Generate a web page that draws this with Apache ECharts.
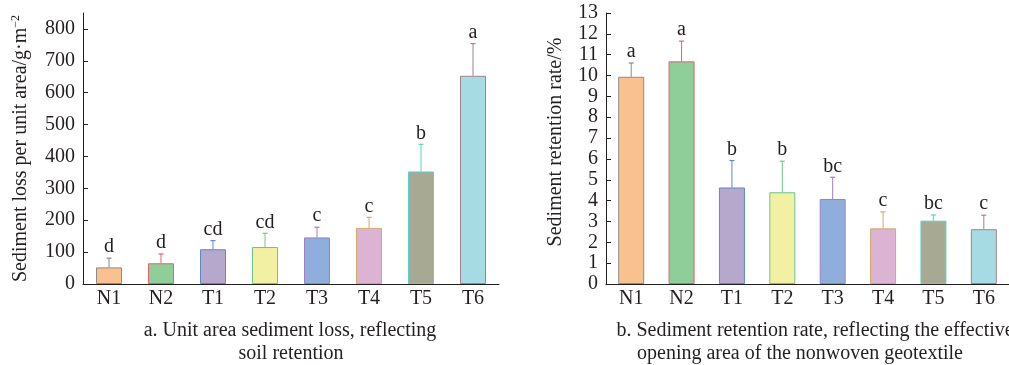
<!DOCTYPE html>
<html>
<head>
<meta charset="utf-8">
<script src="https://cdn.jsdelivr.net/npm/echarts@6/dist/echarts.min.js"></script>
<style>
  html, body { margin: 0; padding: 0; background: #fff; }
  #chart { width: 1009px; height: 365px; }
</style>
</head>
<body>
<div id="chart"></div>
<script>
// Treatments
const categories = ['N1', 'N2', 'T1', 'T2', 'T3', 'T4', 'T5', 'T6'];

// a. Sediment loss per unit area (g·m^-2): mean, upper error, significance letters
const lossMean = [52, 65, 109, 116, 146, 176, 353, 653];
const lossErr = [29, 29, 27, 43, 32, 33, 85, 101];
const lossLetters = ['d', 'd', 'cd', 'cd', 'c', 'c', 'b', 'a'];
const lossTicks = [0, 100, 200, 300, 400, 500, 600, 700, 800];

// b. Sediment retention rate (%): mean, upper error, significance letters
const rateMean = [9.94, 10.68, 4.63, 4.40, 4.08, 2.67, 3.04, 2.63];
const rateErr = [0.66, 0.97, 1.29, 1.49, 1.04, 0.79, 0.27, 0.67];
const rateLetters = ['a', 'a', 'b', 'b', 'bc', 'c', 'bc', 'c'];

// Bar fills and outline / error-bar colours per treatment
const fillColors = ['#F8C18F', '#8FCD99', '#B6A7CC', '#F1F0A3', '#8FAEDC', '#DCB3D2', '#A8A993', '#A7DBE3'];
const edgeColors = ['#8E8A86', '#E4606C', '#5B8ACB', '#6CC48C', '#9A80C2', '#D3A96B', '#5CCFD0', '#A28289'];

const FONT = '"Liberation Serif", "Times New Roman", serif';
const FS = 20;
const INK = '#231F20';

function barData(means) {
  return means.map((v, i) => ({
    value: v,
    itemStyle: { color: fillColors[i], borderColor: edgeColors[i], borderWidth: 1 }
  }));
}

// Upper error whisker with a short cap, plus the significance letter above it
function errorRenderer(letters) {
  return function (params, api) {
    const i = api.value(0);
    const mean = api.value(1);
    const err = api.value(2);
    const p0 = api.coord([i, mean]);
    const p1 = api.coord([i, mean + err]);
    const col = edgeColors[i];
    return {
      type: 'group',
      children: [
        { type: 'line', shape: { x1: p0[0], y1: p0[1], x2: p1[0], y2: p1[1] },
          style: { stroke: col, lineWidth: 1 } },
        { type: 'line', shape: { x1: p1[0] - 2.5, y1: p1[1], x2: p1[0] + 2.5, y2: p1[1] },
          style: { stroke: col, lineWidth: 1.2 } },
        { type: 'text', x: p1[0], y: p1[1] - 1,
          style: { text: letters[i], fill: INK, font: FS + 'px ' + FONT,
                   align: 'center', verticalAlign: 'bottom' } }
      ]
    };
  };
}

const axisCommon = {
  axisLine: { show: true, lineStyle: { color: INK, width: 1 } },
  axisTick: { show: true, inside: true, length: 5, lineStyle: { color: INK } },
  splitLine: { show: false },
  axisLabel: { color: INK, fontFamily: FONT, fontSize: FS }
};

const chart = echarts.init(document.getElementById('chart'), null, { renderer: 'canvas' });

chart.setOption({
  backgroundColor: '#fff',
  animation: false,
  grid: [
    { left: 83, top: 13, width: 416, height: 271, containLabel: false },
    { left: 606, top: 13, width: 416, height: 271, containLabel: false }
  ],
  xAxis: [0, 1].map(g => ({
    type: 'category',
    gridIndex: g,
    data: categories,
    axisLine: { show: true, lineStyle: { color: INK, width: 1 } },
    axisTick: { show: true, inside: true, alignWithLabel: true, length: 5, lineStyle: { color: INK } },
    axisLabel: { color: INK, fontFamily: FONT, fontSize: FS, margin: 5 }
  })),
  yAxis: [
    Object.assign({}, axisCommon, {
      type: 'value', gridIndex: 0, min: 0, max: 850, interval: 100,
      axisTick: Object.assign({}, axisCommon.axisTick, { customValues: lossTicks }),
      axisLabel: Object.assign({}, axisCommon.axisLabel, { customValues: lossTicks, margin: 8 }),
      name: '{n|Sediment loss per unit area/g·m}{s|−2}',
      nameLocation: 'middle',
      nameGap: 52,
      nameTextStyle: {
        color: INK, fontFamily: FONT, fontSize: FS,
        rich: {
          n: { fontFamily: FONT, fontSize: FS, color: INK },
          s: { fontFamily: FONT, fontSize: 12, color: INK, verticalAlign: 'top', padding: [0, 0, 9, 0] }
        }
      }
    }),
    Object.assign({}, axisCommon, {
      type: 'value', gridIndex: 1, min: 0, max: 13, interval: 1,
      axisLabel: Object.assign({}, axisCommon.axisLabel, { margin: 8 }),
      name: 'Sediment retention rate/%',
      nameLocation: 'middle',
      nameGap: 40,
      nameTextStyle: { color: INK, fontFamily: FONT, fontSize: FS, padding: [0, 0, 0, 13] }
    })
  ],
  series: [
    { type: 'bar', xAxisIndex: 0, yAxisIndex: 0, barWidth: 26, data: barData(lossMean) },
    { type: 'custom', xAxisIndex: 0, yAxisIndex: 0, z: 5,
      renderItem: errorRenderer(lossLetters),
      data: lossMean.map((v, i) => [i, v, lossErr[i]]) },
    { type: 'bar', xAxisIndex: 1, yAxisIndex: 1, barWidth: 26, data: barData(rateMean) },
    { type: 'custom', xAxisIndex: 1, yAxisIndex: 1, z: 5,
      renderItem: errorRenderer(rateLetters),
      data: rateMean.map((v, i) => [i, v, rateErr[i]]) }
  ],
  graphic: [
    { type: 'text', x: 290, y: 331,
      style: { text: 'a. Unit area sediment loss, reflecting', font: FS + 'px ' + FONT, fill: INK,
               align: 'center', verticalAlign: 'middle' } },
    { type: 'text', x: 291, y: 354,
      style: { text: 'soil retention', font: FS + 'px ' + FONT, fill: INK,
               align: 'center', verticalAlign: 'middle' } },
    { type: 'text', x: 815, y: 331,
      style: { text: 'b. Sediment retention rate, reflecting the effective', font: FS + 'px ' + FONT, fill: INK,
               align: 'center', verticalAlign: 'middle' } },
    { type: 'text', x: 800, y: 354,
      style: { text: 'opening area of the nonwoven geotextile', font: FS + 'px ' + FONT, fill: INK,
               align: 'center', verticalAlign: 'middle' } }
  ]
});
</script>
</body>
</html>
